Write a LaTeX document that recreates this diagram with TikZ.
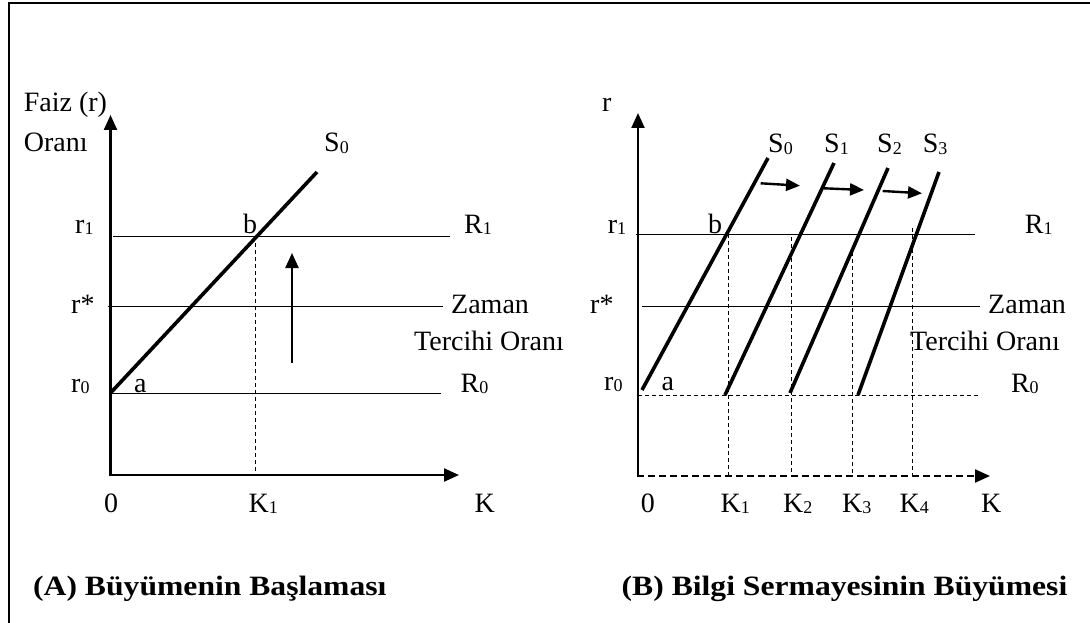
\documentclass[tikz,border=0pt]{standalone}
\usepackage{fontspec}
\setmainfont{Liberation Serif}
\newfontfamily\titlefont{Liberation Serif}[FakeStretch=1.13]
\usetikzlibrary{arrows.meta}
\newcommand\lsub[1]{\raisebox{-1.7pt}{\fontsize{18}{18}\selectfont #1}}
\begin{document}
\begin{tikzpicture}[x=1pt,y=-1pt,
 lbl/.style={inner sep=0pt, anchor=base west, font=\fontsize{28}{32}\selectfont},
 ttl/.style={inner sep=0pt, anchor=base west, font=\titlefont\bfseries\fontsize{28}{32}\selectfont},
 axis/.style={line width=2.3pt, -{Triangle[length=15pt,width=13pt]}},
 daxis/.style={line width=2.3pt, dash pattern=on 7pt off 4pt, -{Triangle[length=15pt,width=13pt]}},
 thinline/.style={line width=1pt},
 guide/.style={line width=0.9pt, dash pattern=on 4pt off 3pt},
 supply/.style={line width=3.6pt},
 shiftarrow/.style={line width=2.4pt, -{Triangle[length=14pt,width=12pt]}},
 frameline/.style={line width=2pt},
]
\useasboundingbox (0,0) rectangle (1090,623);
\fill[white] (0,0) rectangle (1090,623);
\clip (0,0) rectangle (1090,623);
% frame
\coordinate (Fbl) at (8.7,640);
\coordinate (Ftl) at (8.7,3.5);
\coordinate (Ftr) at (1100,3.5);
\draw[frameline] (Fbl) -- (Ftl) -- (Ftr);

% ---------- Panel A ----------
\coordinate (Ao) at (110.5,475);
\coordinate (Ay) at (110.5,115);
\coordinate (Ax) at (459,475);
\draw[axis] (Ao) -- (Ay);
\draw[axis] ([xshift=-1.15pt]Ao) -- (Ax);
\coordinate (Ar1s) at (113,236);  \coordinate (Ar1e) at (450,236);
\coordinate (Arss) at (108,306);  \coordinate (Arse) at (443,306);
\coordinate (Ar0s) at (110,393);  \coordinate (Ar0e) at (441,393);
\draw[thinline] (Ar1s) -- (Ar1e);
\draw[thinline] (Arss) -- (Arse);
\draw[thinline] (Ar0s) -- (Ar0e);
\coordinate (AS0a) at (110.5,393); \coordinate (AS0b) at (317,172);
\draw[supply] (AS0a) -- (AS0b);
\coordinate (AK1t) at (255,236); \coordinate (AK1b) at (255,475);
\draw[guide] (AK1t) -- (AK1b);
\coordinate (Aupa) at (292,363); \coordinate (Aupb) at (292,253);
\draw[axis] (Aupa) -- (Aupb);

\node[lbl] (faiz) at (23.6,112) {Faiz (r)};
\node[lbl] (orani) at (23.6,152) {Oranı};
\node[lbl] (AS0) at (324,152) {S\lsub{0}};
\node[lbl] (Ar1) at (75,233) {r\lsub{1}};
\node[lbl] (Ab) at (243,233) {b};
\node[lbl] (AR1) at (464,233) {R\lsub{1}};
\node[lbl] (Ars) at (71,313) {r*};
\node[lbl] (Azam) at (451,313) {Zaman};
\node[lbl] (Ater) at (414,350) {Tercihi Oranı};
\node[lbl] (Ar0) at (71,392) {r\lsub{0}};
\node[lbl] (Aa) at (134,392) {a};
\node[lbl] (AR0) at (460.5,392) {R\lsub{0}};
\node[lbl] (A0) at (104,512) {0};
\node[lbl] (AK1) at (248.5,512) {K\lsub{1}};
\node[lbl] (AK) at (474.5,512) {K};
\node[ttl] (Attl) at (33,595) {(A) Büyümenin Başlaması};

% ---------- Panel B ----------
\coordinate (Bo) at (638,475);
\coordinate (By) at (638,113);
\coordinate (Bx) at (990,476);
\draw[axis] (Bo) -- (By);
\draw[daxis] ([xshift=-1.15pt]Bo |- Bx) -- (Bx);
\coordinate (Br1s) at (636,234);  \coordinate (Br1e) at (975,234);
\coordinate (Brss) at (642,306);  \coordinate (Brse) at (979.5,306);
\coordinate (Br0s) at (638,395);  \coordinate (Br0e) at (978,395);
\draw[thinline] (Br1s) -- (Br1e);
\draw[thinline] (Brss) -- (Brse);
\draw[guide] (Br0s) -- (Br0e);
\coordinate (BS0a) at (642,390); \coordinate (BS0b) at (768,158);
\coordinate (BS1a) at (725,395); \coordinate (BS1b) at (834,163);
\coordinate (BS2a) at (790,393); \coordinate (BS2b) at (888,168);
\coordinate (BS3a) at (858,395); \coordinate (BS3b) at (939,172);
\draw[supply] (BS0a) -- (BS0b);
\draw[supply] (BS1a) -- (BS1b);
\draw[supply] (BS2a) -- (BS2b);
\draw[supply] (BS3a) -- (BS3b);
\coordinate (BK1t) at (728.5,234); \coordinate (BK1b) at (728.5,475);
\coordinate (BK2t) at (791,237);   \coordinate (BK2b) at (791,475);
\coordinate (BK3t) at (852.6,252); \coordinate (BK3b) at (852.6,475);
\coordinate (BK4t) at (912.4,228); \coordinate (BK4b) at (912.4,475);
\draw[guide] (BK1t) -- (BK1b);
\draw[guide] (BK2t) -- (BK2b);
\draw[guide] (BK3t) -- (BK3b);
\draw[guide] (BK4t) -- (BK4b);
\coordinate (Bh1a) at (760.7,183.3); \coordinate (Bh1b) at (800,185.7);
\coordinate (Bh2a) at (824,188.3);   \coordinate (Bh2b) at (864,190);
\coordinate (Bh3a) at (882.7,191);   \coordinate (Bh3b) at (922,193.3);
\draw[shiftarrow] (Bh1a) -- (Bh1b);
\draw[shiftarrow] (Bh2a) -- (Bh2b);
\draw[shiftarrow] (Bh3a) -- (Bh3b);

\node[lbl] (Br) at (602,112) {r};
\node[lbl] (BS0) at (768,152.7) {S\lsub{0}};
\node[lbl] (BS1) at (824,152.7) {S\lsub{1}};
\node[lbl] (BS2) at (877,152.7) {S\lsub{2}};
\node[lbl] (BS3) at (922.7,152.7) {S\lsub{3}};
\node[lbl] (Br1) at (607.6,233) {r\lsub{1}};
\node[lbl] (Bb) at (708,233) {b};
\node[lbl] (BR1) at (1024.7,233) {R\lsub{1}};
\node[lbl] (Brs) at (590,313) {r*};
\node[lbl] (Bzam) at (988,313) {Zaman};
\node[lbl] (Bter) at (910,350) {Tercihi Oranı};
\node[lbl] (Br0) at (604,390) {r\lsub{0}};
\node[lbl] (Ba) at (661.4,390) {a};
\node[lbl] (BR0) at (1010.8,392) {R\lsub{0}};
\node[lbl] (B0) at (640.6,512) {0};
\node[lbl] (BK1) at (720.5,512) {K\lsub{1}};
\node[lbl] (BK2) at (783,512) {K\lsub{2}};
\node[lbl] (BK3) at (842,512) {K\lsub{3}};
\node[lbl] (BK4) at (899.5,512) {K\lsub{4}};
\node[lbl] (BK) at (981,512) {K};
\node[ttl] (Bttl) at (621.5,595) {(B) Bilgi Sermayesinin Büyümesi};
\end{tikzpicture}
\end{document}
